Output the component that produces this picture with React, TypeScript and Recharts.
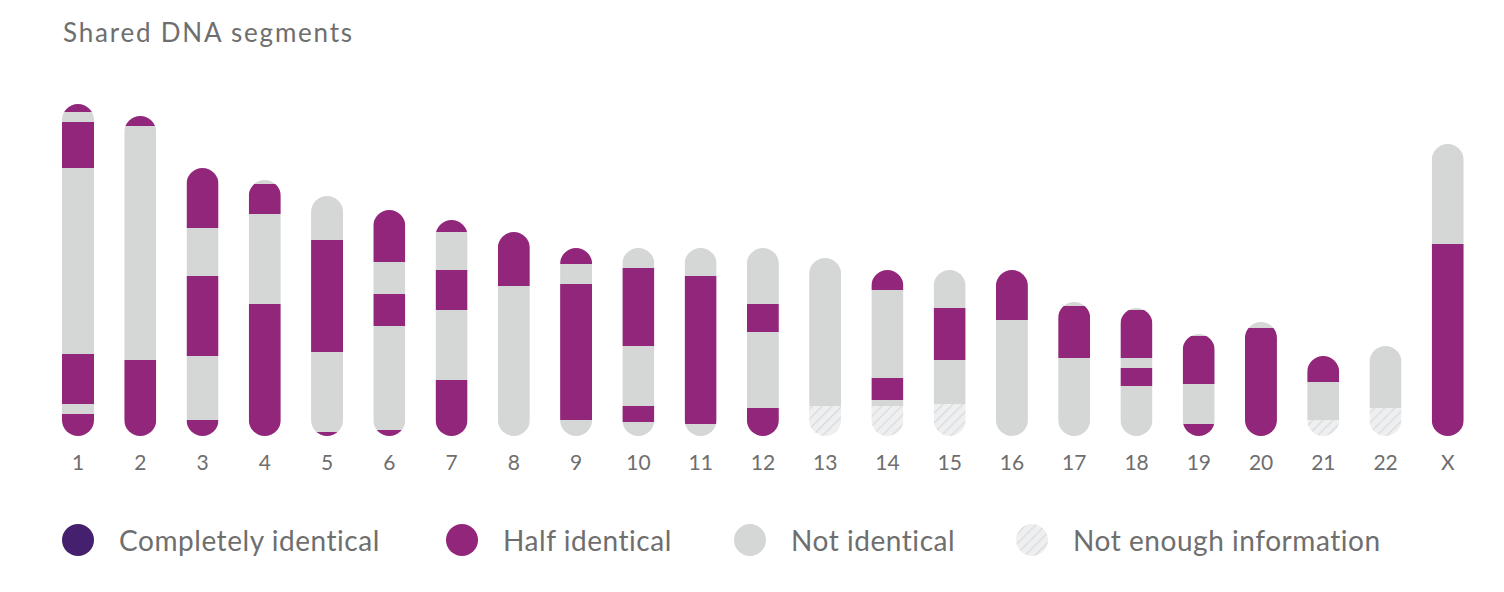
import React from "react";
import { Bar, BarChart, XAxis, YAxis } from "recharts";

// chromosome labels
const CHROMOSOMES = ["1", "2", "3", "4", "5", "6", "7", "8", "9", "10", "11", "12", "13", "14", "15", "16", "17", "18", "19", "20", "21", "22", "X"];

// segment types per chromosome, bottom to top
// H = half identical, N = not identical, U = not enough information
const SEGMENT_TYPES: string[][] = [
  ["H", "N", "H", "N", "H", "N", "H"],
  ["H", "N", "H"],
  ["H", "N", "H", "N", "H"],
  ["H", "N", "H", "N"],
  ["H", "N", "H", "N"],
  ["H", "N", "H", "N", "H"],
  ["H", "N", "H", "N", "H"],
  ["N", "H"],
  ["N", "H", "N", "H"],
  ["N", "H", "N", "H", "N"],
  ["N", "H", "N"],
  ["H", "N", "H", "N"],
  ["U", "N"],
  ["U", "N", "H", "N", "H"],
  ["U", "N", "H", "N"],
  ["N", "H"],
  ["N", "H", "N"],
  ["N", "H", "N", "H", "N"],
  ["H", "N", "H", "N"],
  ["H", "N"],
  ["U", "N", "H"],
  ["U", "N"],
  ["H", "N"],
];

// segment lengths, same order
const SEGMENT_LENGTHS: number[][] = [
  [22, 10, 50, 186, 46, 10, 8],
  [76, 234, 10],
  [16, 64, 80, 48, 60],
  [132, 90, 30, 4],
  [4, 80, 112, 44],
  [6, 104, 32, 32, 52],
  [56, 70, 40, 38, 12],
  [150, 54],
  [16, 136, 20, 16],
  [14, 16, 60, 78, 20],
  [12, 148, 28],
  [28, 76, 28, 56],
  [30, 148],
  [30, 6, 22, 88, 20],
  [32, 44, 52, 38],
  [116, 50],
  [78, 52, 4],
  [50, 18, 10, 48, 2],
  [12, 40, 48, 2],
  [108, 6],
  [16, 38, 26],
  [28, 62],
  [192, 100],
];

const LEGEND_LABELS = ["Completely identical", "Half identical", "Not identical", "Not enough information"];
const LEGEND_KEYS = ["C", "H", "N", "U"];
const LEGEND_LEFT = [62, 446, 734, 1016];

const FILLS: Record<string, string> = {
  C: "#44206f",
  H: "#92267a",
  N: "#d5d6d6",
  U: "url(#hatch)",
};

const MAX_SEGMENTS = Math.max(...SEGMENT_LENGTHS.map((s) => s.length));
const SERIES = Array.from({ length: MAX_SEGMENTS }, (_, i) => `s${i}`);

const chartData = CHROMOSOMES.map((name, i) => {
  const row: any = { name, types: SEGMENT_TYPES[i], lengths: SEGMENT_LENGTHS[i] };
  SERIES.forEach((key, k) => {
    row[key] = SEGMENT_LENGTHS[i][k] ?? 0;
  });
  return row;
});

const TEXT = "#6e6e6e";
const FONT = "Lato, 'Open Sans', sans-serif";

// each segment is clipped to the pill shape of its whole chromosome
const makeShape = (seg: number) => (props: any) => {
  const { x, y, width, height, payload, index } = props;
  const lens: number[] = payload.lengths;
  const len = lens[seg];
  if (!len || !height) return <g />;
  const ppu = height / len;
  const below = lens.slice(0, seg).reduce((a, b) => a + b, 0);
  const total = lens.reduce((a, b) => a + b, 0);
  const bottom = y + height + below * ppu;
  const top = bottom - total * ppu;
  const id = `clip-${index}-${seg}`;
  return (
    <g>
      <defs>
        <clipPath id={id}>
          <rect x={x} y={top} width={width} height={bottom - top} rx={width / 2} ry={width / 2} />
        </clipPath>
      </defs>
      <rect x={x} y={y} width={width} height={height} fill={FILLS[payload.types[seg]]} clipPath={`url(#${id})`} />
    </g>
  );
};

export default function App() {
  return (
    <div style={{ position: "absolute", left: 0, top: 0, width: 1504, height: 592, background: "#fff", fontFamily: FONT }}>
      <svg width={0} height={0} style={{ position: "absolute" }}>
        <defs>
          <pattern id="hatch" patternUnits="userSpaceOnUse" width={7} height={7} patternTransform="rotate(45)">
            <rect width={7} height={7} fill="#eeeff0" />
            <line x1={0} y1={0} x2={0} y2={7} stroke="#d8d9da" strokeWidth={2.4} />
          </pattern>
        </defs>
      </svg>
      <div style={{ position: "absolute", left: 63, top: 19, fontSize: 26, lineHeight: "26px", color: TEXT, letterSpacing: 1.8 }}>
        Shared DNA segments
      </div>
      <BarChart
        width={1504}
        height={592}
        data={chartData}
        margin={{ top: 96, right: 25, left: 47, bottom: 116 }}
        barSize={32}
      >
        <XAxis
          dataKey="name"
          height={40}
          axisLine={false}
          tickLine={false}
          tickSize={0}
          tickMargin={19}
          interval={0}
          tick={{ fill: TEXT, fontSize: 21, fontFamily: FONT }}
        />
        <YAxis hide domain={[0, 340]} allowDataOverflow />
        {SERIES.map((key, k) => (
          <Bar key={key} dataKey={key} stackId="a" isAnimationActive={false} shape={makeShape(k)} />
        ))}
      </BarChart>
      {LEGEND_LABELS.map((label, i) => (
        <div key={label} style={{ position: "absolute", left: LEGEND_LEFT[i], top: 524, display: "flex", alignItems: "center" }}>
          <svg width={32} height={32}>
            <circle cx={16} cy={16} r={16} fill={FILLS[LEGEND_KEYS[i]]} />
          </svg>
          <span style={{ marginLeft: 25, fontSize: 28, lineHeight: "32px", color: TEXT, letterSpacing: 0.55, whiteSpace: "nowrap" }}>{label}</span>
        </div>
      ))}
    </div>
  );
}
